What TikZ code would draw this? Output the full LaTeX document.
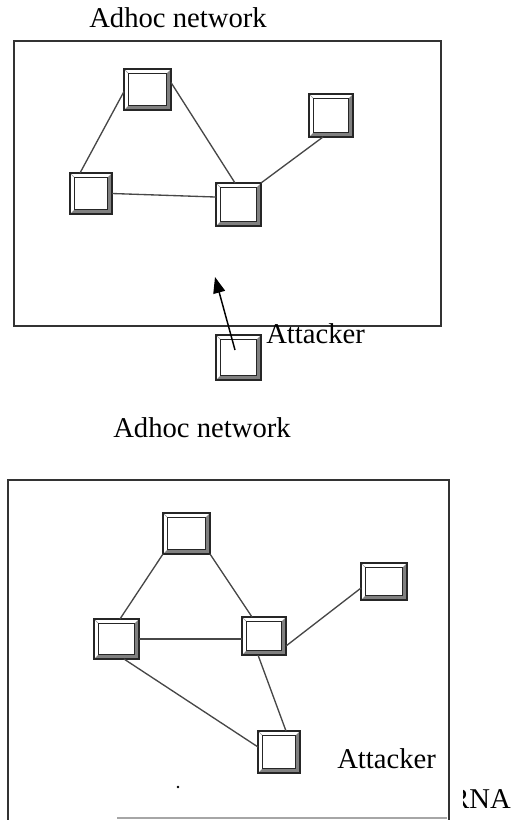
\documentclass[tikz,border=0pt]{standalone}
\usepackage{fontspec}
\setmainfont{Liberation Serif}
\usetikzlibrary{arrows.meta,calc}
\begin{document}
\begin{tikzpicture}[x=0.75pt,y=-0.75pt,
  netbox/.style 2 args={draw=black!85, line width=1.1pt, fill=white, inner sep=0pt, outer sep=0pt,
    minimum width=#1*0.75pt, minimum height=#2*0.75pt,
    path picture={
      \fill[black!50] ([shift={(0.6pt,0.6pt)}]path picture bounding box.south west)
        -- ([shift={(-0.6pt,0.6pt)}]path picture bounding box.south east)
        -- ([shift={(-0.6pt,-0.6pt)}]path picture bounding box.north east)
        -- ([shift={(-3.6pt,-3.6pt)}]path picture bounding box.north east)
        -- ([shift={(-3.6pt,3.6pt)}]path picture bounding box.south east)
        -- ([shift={(3.6pt,3.6pt)}]path picture bounding box.south west) -- cycle;
      \draw[black!40, line width=0.3pt] ([shift={(0.6pt,-0.6pt)}]path picture bounding box.north west)
        -- ([shift={(3.6pt,-3.6pt)}]path picture bounding box.north west);
      \draw[black!85, line width=1pt] ([shift={(3.6pt,3.6pt)}]path picture bounding box.south west)
        rectangle ([shift={(-3.6pt,-3.6pt)}]path picture bounding box.north east);
    }},
  link/.style={draw=black!72, line width=1pt},
  frame/.style={draw=black!80, line width=1.1pt},
  label/.style={font=\fontsize{21.5pt}{24pt}\selectfont, inner sep=0pt, anchor=base west},
]
\useasboundingbox (0,0) rectangle (513,820);

% ---------- top network ----------
\draw[frame] (14,41) rectangle (441,326);
\node[label] (t1) at (89,28) {Adhoc network};

\node[netbox={47}{41}] (A) at (147.5,89.5) {};
\node[netbox={42}{41}] (B) at (91,193.5) {};
\node[netbox={45}{43}] (C) at (238.5,204.5) {};
\node[netbox={44}{43}] (D) at (331,115.5) {};
\node[netbox={45}{45}] (T) at (238.5,357.5) {};
\node[label] (ta) at (266,343) {Attacker};

\draw[link] ([yshift=-1.5pt]A.west) -- ([xshift=-8.25pt]B.north);
\draw[link] ([yshift=5.25pt]A.east) -- ([xshift=-2.6pt]C.north);
\draw[link] (B.east) -- ([yshift=5.6pt]C.west);
\draw[link] (C.north east) -- ([xshift=-6pt]D.south);

\coordinate (arrowstart) at (235,350);
\coordinate (arrowtip) at (215,277);
\draw[black, line width=1.1pt, -{Triangle[length=12pt,width=9pt]}] (arrowstart) -- (arrowtip);

% ---------- bottom network ----------
\node[label] (t2) at (113,437) {Adhoc network};
\draw[frame] (8,820) -- (8,480) -- (449,480) -- (449,820);
\draw[black!35, line width=0.9pt] (117,818) -- (447,818);

\node[netbox={47}{41}] (E) at (186.5,533.5) {};
\node[netbox={45}{40}] (F) at (116.5,639) {};
\node[netbox={44}{38}] (G) at (264,636) {};
\node[netbox={42}{42}] (H) at (279,752) {};
\node[netbox={46}{37}] (I) at (384,581.5) {};
\node[label] (ba) at (337,768) {Attacker};

\draw[link] (E.south west) -- ([xshift=2.6pt]F.north);
\draw[link] (E.south east) -- ([xshift=7.5pt]G.north west);
\draw[link] (F.east) -- (G.west |- F.east);
\draw[link] ([xshift=5.6pt]F.south) -- ([yshift=3.75pt]H.west);
\draw[link] ([xshift=-4.5pt]G.south) -- ([xshift=5.25pt]H.north);
\draw[link] ([yshift=-7.5pt]G.east) -- ([yshift=-4.9pt]I.west);

\fill[black] (178,787) circle (1pt);

\begin{scope}
  \clip (463,760) rectangle (513,820);
  \node[label] (rna) at (450,808) {RNA};
\end{scope}
\end{tikzpicture}
\end{document}
